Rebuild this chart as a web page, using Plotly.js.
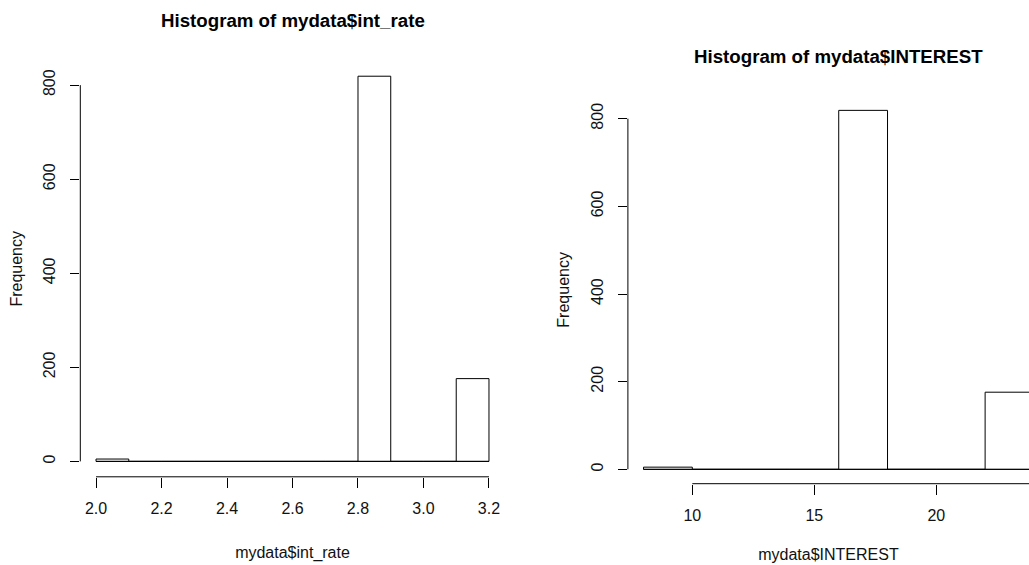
<!DOCTYPE html>
<html><head><meta charset="utf-8">
<script src="https://cdn.plot.ly/plotly-3.0.1.min.js"></script>
<style>html,body{margin:0;padding:0;background:#fff;overflow:hidden}#chart{width:1029px;height:565px}</style>
</head><body><div id="chart"></div>
<script>
// ---- data ----
const leftBreaks = [2.0, 2.1, 2.2, 2.3, 2.4, 2.5, 2.6, 2.7, 2.8, 2.9, 3.0, 3.1, 3.2];
const leftCounts = [5, 0, 0, 0, 0, 0, 0, 0, 819, 0, 0, 176];
const leftXTickVals = [2.0, 2.2, 2.4, 2.6, 2.8, 3.0, 3.2];
const leftXTickText = ["2.0", "2.2", "2.4", "2.6", "2.8", "3.0", "3.2"];

const rightBreaks = [8, 10, 12, 14, 16, 18, 20, 22, 24];
const rightCounts = [5, 0, 0, 0, 819, 0, 0, 176];
const rightXTickVals = [10, 15, 20, 25];
const rightXTickText = ["10", "15", "20", "25"];

const yTickVals = [0, 200, 400, 600, 800];
const yTickText = ["0", "200", "400", "600", "800"];

const leftTitle = "Histogram of mydata$int_rate";
const rightTitle = "Histogram of mydata$INTEREST";
const leftXLabel = "mydata$int_rate";
const rightXLabel = "mydata$INTEREST";
const yLabel = "Frequency";

// ---- helpers ----
function centers(b) { const c = []; for (let i = 0; i < b.length - 1; i++) c.push((b[i] + b[i + 1]) / 2); return c; }
function widths(b) { const w = []; for (let i = 0; i < b.length - 1; i++) w.push(b[i + 1] - b[i]); return w; }

const FONT = 'Liberation Sans, Arial, Helvetica, sans-serif';
const W = 1029, H = 565;
const lineStyle = { color: '#000', width: 1 };

function bars(breaks, counts, xa, ya) {
  return {
    type: 'bar', x: centers(breaks), y: counts, width: widths(breaks),
    xaxis: xa, yaxis: ya, marker: { color: '#fff', line: lineStyle },
    hoverinfo: 'x+y', showlegend: false
  };
}

const lMax = Math.max(...leftCounts), rMax = Math.max(...rightCounts);
const lSpan = leftBreaks[leftBreaks.length - 1] - leftBreaks[0];
const rSpan = rightBreaks[rightBreaks.length - 1] - rightBreaks[0];

// right panel is cut by the window edge: pixel scale matched to the picture
const rX0 = rightBreaks[0] - 0.04 * rSpan;
const rDomL = 627.9, rPxPerUnit = 24.4;
const rX1 = rX0 + (W - rDomL) / rPxPerUnit;

const tickFont = { family: FONT, size: 16, color: '#111' };
const titleFont = { family: FONT, size: 16, color: '#111' };

function xAxis(domain, range, vals, text, title, anchor, standoff) {
  return {
    domain, range, anchor, tickmode: 'array', tickvals: vals, ticktext: text,
    ticks: 'outside', ticklen: 10, tickwidth: 1, tickcolor: '#000',
    showline: false, showgrid: false, zeroline: false, tickfont: tickFont,
    ticklabelstandoff: 7,
    title: { text: title, font: titleFont, standoff }, automargin: false, fixedrange: true
  };
}
function yAxis(domain, range, anchor, standoff) {
  return {
    domain, range, anchor, tickmode: 'array', tickvals: yTickVals, ticktext: yTickText,
    ticks: 'outside', ticklen: 9, tickwidth: 1, tickcolor: '#000', tickangle: -90,
    showline: false, showgrid: false, zeroline: false, tickfont: tickFont,
    ticklabelstandoff: 9,
    title: { text: yLabel, font: titleFont, standoff }, automargin: false, fixedrange: true
  };
}

const layout = {
  width: W, height: H, margin: { l: 0, r: 0, t: 0, b: 0 },
  paper_bgcolor: '#fff', plot_bgcolor: '#fff', showlegend: false,
  bargap: 0,
  xaxis: xAxis([80.3 / W, 504.7 / W], [leftBreaks[0] - 0.04 * lSpan, leftBreaks[leftBreaks.length - 1] + 0.04 * lSpan],
    leftXTickVals, leftXTickText, leftXLabel, 'y', 30),
  yaxis: yAxis([1 - 476.8 / H, 1 - 60.8 / H], [-0.04 * lMax, 1.04 * lMax], 'x', 14),
  xaxis2: xAxis([rDomL / W, 1], [rX0, rX1], rightXTickVals, rightXTickText, rightXLabel, 'y2', 25),
  yaxis2: yAxis([1 - 483.7 / H, 1 - 96.0 / H], [-0.04 * rMax, 1.04 * rMax], 'x2', 14),
  shapes: [
    // axis lines spanning first to last tick (R style)
    { type: 'line', xref: 'x', yref: 'y domain', x0: leftXTickVals[0], x1: leftXTickVals[leftXTickVals.length - 1], y0: 0, y1: 0, line: lineStyle },
    { type: 'line', xref: 'x domain', yref: 'y', x0: 0, x1: 0, y0: yTickVals[0], y1: yTickVals[yTickVals.length - 1], line: lineStyle },
    { type: 'line', xref: 'x2', yref: 'y2 domain', x0: rightXTickVals[0], x1: rightXTickVals[rightXTickVals.length - 1], y0: 0, y1: 0, line: lineStyle },
    { type: 'line', xref: 'x2 domain', yref: 'y2', x0: 0, x1: 0, y0: yTickVals[0], y1: yTickVals[yTickVals.length - 1], line: lineStyle },
    // zero-height bins baseline
    { type: 'line', xref: 'x', yref: 'y', x0: leftBreaks[0], x1: leftBreaks[leftBreaks.length - 1], y0: 0, y1: 0, line: lineStyle },
    { type: 'line', xref: 'x2', yref: 'y2', x0: rightBreaks[0], x1: rightBreaks[rightBreaks.length - 1], y0: 0, y1: 0, line: lineStyle }
  ],
  annotations: [
    { text: '<b>' + leftTitle + '</b>', xref: 'paper', yref: 'paper', x: 292.5 / W, y: 1 - 20 / H,
      xanchor: 'center', yanchor: 'middle', showarrow: false, font: { family: FONT, size: 18.7, color: '#000' } },
    { text: '<b>' + rightTitle + '</b>', xref: 'paper', yref: 'paper', x: 838.7 / W, y: 1 - 56.7 / H,
      xanchor: 'center', yanchor: 'middle', showarrow: false, font: { family: FONT, size: 18.7, color: '#000' } }
  ]
};

const data = [
  bars(leftBreaks, leftCounts, 'x', 'y'),
  bars(rightBreaks, rightCounts, 'x2', 'y2')
];

Plotly.newPlot('chart', data, layout, { displayModeBar: false, staticPlot: true });
</script>
</body></html>
